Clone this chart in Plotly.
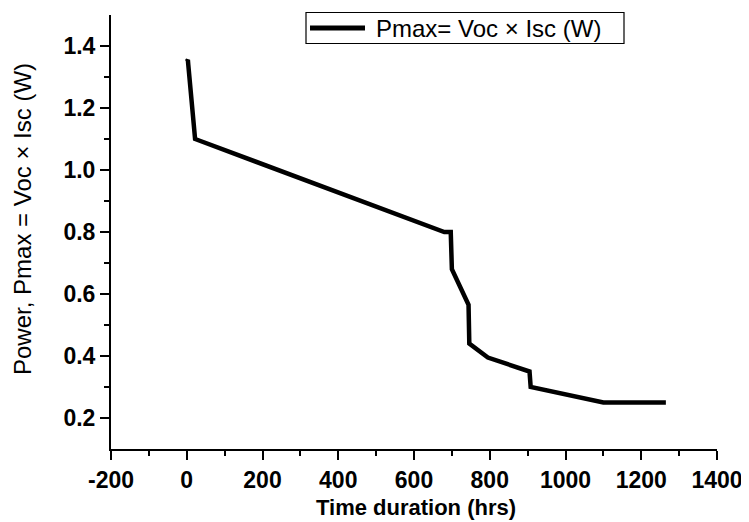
import plotly.graph_objects as go

# ---- data ----
time_hrs = [0, 3, 4, 22, 680, 697, 700, 744, 746, 795, 905, 908, 1100, 1265]
pmax_w = [1.35, 1.355, 1.34, 1.10, 0.80, 0.80, 0.68, 0.565, 0.44, 0.395, 0.35, 0.30, 0.25, 0.25]

x_major = [-200, 0, 200, 400, 600, 800, 1000, 1200, 1400]
x_minor = [-100, 100, 300, 500, 700, 900, 1100, 1300]
y_major = [0.2, 0.4, 0.6, 0.8, 1.0, 1.2, 1.4]
y_minor = [0.3, 0.5, 0.7, 0.9, 1.1, 1.3]
y_labels = ["0.2", "0.4", "0.6", "0.8", "1.0", "1.2", "1.4"]
x_labels = ["-200", "0", "200", "400", "600", "800", "1000", "1200", "1400"]

series_name = "Pmax= Voc \u00d7 Isc (W)"
x_title = "Time duration (hrs)"
y_title = "Power, Pmax = Voc \u00d7 Isc (W)"

# ---- layout geometry ----
# the page body has an 8px default margin, so the figure is shrunk and
# shifted so that the plot area lands where the reference has it.
OFF = 8
W, H = 749 - OFF, 522 - OFF
PL, PR, PT, PB = 111, 717, 15, 449      # plot area in screenshot pixels
L, T = PL - OFF, PT - OFF
R, B = W - (PR - OFF), H - (PB - OFF)
pw, ph = PR - PL, PB - PT

def px(xs):
    return (xs - PL) / pw

def py(ys):
    return (PB - ys) / ph

FONT = "Liberation Sans, Arial, sans-serif"

fig = go.Figure()
fig.add_trace(go.Scatter(
    x=time_hrs, y=pmax_w, mode="lines", name=series_name,
    line=dict(color="black", width=4.5), showlegend=False,
    hoverinfo="skip",
))

axis_common = dict(
    showline=True, linecolor="black", linewidth=2, mirror=False,
    showgrid=False, zeroline=False, ticks="outside", ticklen=9,
    tickwidth=1.5, tickcolor="black",
    tickfont=dict(family=FONT, size=23, color="black", weight="bold"),
)

fig.update_xaxes(
    range=[-200, 1400], tickmode="array", tickvals=x_major, ticktext=x_labels,
    minor=dict(tickvals=x_minor, ticks="outside", ticklen=5, tickwidth=1.5,
               tickcolor="black", showgrid=False),
    **axis_common,
)
fig.update_yaxes(
    range=[0.1, 1.5], tickmode="array", tickvals=y_major, ticktext=y_labels,
    minor=dict(tickvals=y_minor, ticks="outside", ticklen=5, tickwidth=1.5,
               tickcolor="black", showgrid=False),
    **axis_common,
)

# ---- manual legend box ----
fig.add_shape(type="rect", xref="paper", yref="paper",
              x0=px(306), x1=px(624), y0=py(43.5), y1=py(12.5),
              line=dict(color="black", width=1.2), fillcolor="white", layer="above")
fig.add_shape(type="line", xref="paper", yref="paper",
              x0=px(310), x1=px(365), y0=py(28), y1=py(28),
              line=dict(color="black", width=5), layer="above")
fig.add_annotation(xref="paper", yref="paper", x=px(374), y=py(28.5),
                   xanchor="left", yanchor="middle", showarrow=False,
                   text=series_name,
                   font=dict(family=FONT, size=24, color="black"))

# ---- axis titles ----
fig.add_annotation(xref="paper", yref="paper", x=px(416), y=py(508),
                   xanchor="center", yanchor="middle", showarrow=False,
                   text=x_title,
                   font=dict(family=FONT, size=22, color="black", weight="bold"))
fig.add_annotation(xref="paper", yref="paper", x=px(23), y=py(219),
                   xanchor="center", yanchor="middle", showarrow=False,
                   textangle=-90, text=y_title,
                   font=dict(family=FONT, size=24, color="black"))

fig.update_layout(
    width=W, height=H,
    margin=dict(l=L, r=R, t=T, b=B, autoexpand=False),
    paper_bgcolor="white", plot_bgcolor="white",
    hovermode=False,
)

fig.write_html("out.html", config={"displayModeBar": False})
